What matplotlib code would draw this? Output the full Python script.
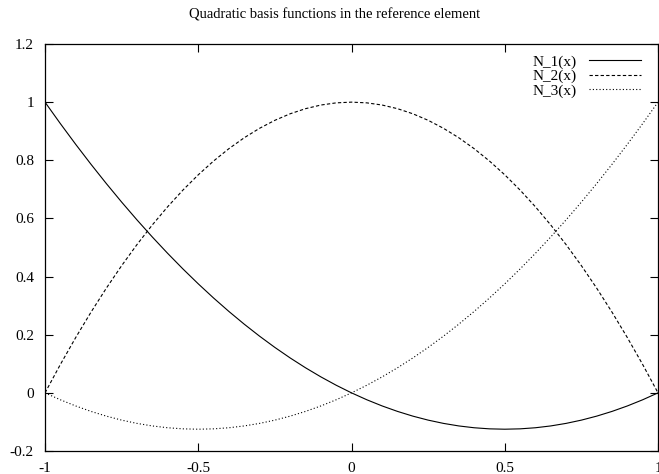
import matplotlib
matplotlib.use("Agg")
import matplotlib.pyplot as plt

plt.rcParams['font.family'] = ['Liberation Serif', 'DejaVu Serif']

# sample points on the reference element [-1, 1]
x = [-1.0, -0.95, -0.9, -0.85, -0.8, -0.75, -0.7, -0.65, -0.6, -0.55, -0.5,
     -0.45, -0.4, -0.35, -0.3, -0.25, -0.2, -0.15, -0.1, -0.05, 0.0,
     0.05, 0.1, 0.15, 0.2, 0.25, 0.3, 0.35, 0.4, 0.45, 0.5,
     0.55, 0.6, 0.65, 0.7, 0.75, 0.8, 0.85, 0.9, 0.95, 1.0]

n1 = [1.0, 0.92625, 0.855, 0.78625, 0.72, 0.65625, 0.595, 0.53625, 0.48, 0.42625, 0.375,
      0.32625, 0.28, 0.23625, 0.195, 0.15625, 0.12, 0.08625, 0.055, 0.02625, 0.0,
      -0.02375, -0.045, -0.06375, -0.08, -0.09375, -0.105, -0.11375, -0.12, -0.12375, -0.125,
      -0.12375, -0.12, -0.11375, -0.105, -0.09375, -0.08, -0.06375, -0.045, -0.02375, 0.0]
n2 = [0.0, 0.0975, 0.19, 0.2775, 0.36, 0.4375, 0.51, 0.5775, 0.64, 0.6975, 0.75,
      0.7975, 0.84, 0.8775, 0.91, 0.9375, 0.96, 0.9775, 0.99, 0.9975, 1.0,
      0.9975, 0.99, 0.9775, 0.96, 0.9375, 0.91, 0.8775, 0.84, 0.7975, 0.75,
      0.6975, 0.64, 0.5775, 0.51, 0.4375, 0.36, 0.2775, 0.19, 0.0975, 0.0]
n3 = [0.0, -0.02375, -0.045, -0.06375, -0.08, -0.09375, -0.105, -0.11375, -0.12, -0.12375, -0.125,
      -0.12375, -0.12, -0.11375, -0.105, -0.09375, -0.08, -0.06375, -0.045, -0.02375, 0.0,
      0.02625, 0.055, 0.08625, 0.12, 0.15625, 0.195, 0.23625, 0.28, 0.32625, 0.375,
      0.42625, 0.48, 0.53625, 0.595, 0.65625, 0.72, 0.78625, 0.855, 0.92625, 1.0]

labels = ['N_1(x)', 'N_2(x)', 'N_3(x)']
xticks = [-1, -0.5, 0, 0.5, 1]
yticks = [-0.2, 0, 0.2, 0.4, 0.6, 0.8, 1, 1.2]

fig = plt.figure(figsize=(6.59, 4.74), dpi=100)
ax = fig.add_axes([0.0683, 0.0485, 0.9302, 0.8587])

lw = 0.8
ax.plot(x, n1, color='black', lw=lw, linestyle='-', label=labels[0])
ax.plot(x, n2, color='black', lw=lw, linestyle=(0, (3, 2)), label=labels[1])
ax.plot(x, n3, color='black', lw=lw, linestyle=(0, (1, 2)), label=labels[2])

ax.set_xlim(-1, 1)
ax.set_ylim(-0.2, 1.2)
ax.set_xticks(xticks)
ax.set_xticklabels(['-1', '-0.5', '0', '0.5', '1'])
ax.set_yticks(yticks)
ax.set_yticklabels(['-0.2', '0', '0.2', '0.4', '0.6', '0.8', '1', '1.2'])
ax.tick_params(direction='in', length=6, width=0.8, top=True, right=True,
               labelsize=11, pad=8)
for s in ax.spines.values():
    s.set_linewidth(0.9)

fig.text(335 / 659, 1 - 15 / 474, 'Quadratic basis functions in the reference element',
         fontsize=10.5, ha='center', va='center')

ax.legend(loc='upper right', frameon=False, markerfirst=False, fontsize=11,
          handlelength=3.4, handletextpad=0.8, labelspacing=0.05,
          borderaxespad=0.3, bbox_to_anchor=(0.99, 1.0))

fig.savefig('out.png', dpi=100)
